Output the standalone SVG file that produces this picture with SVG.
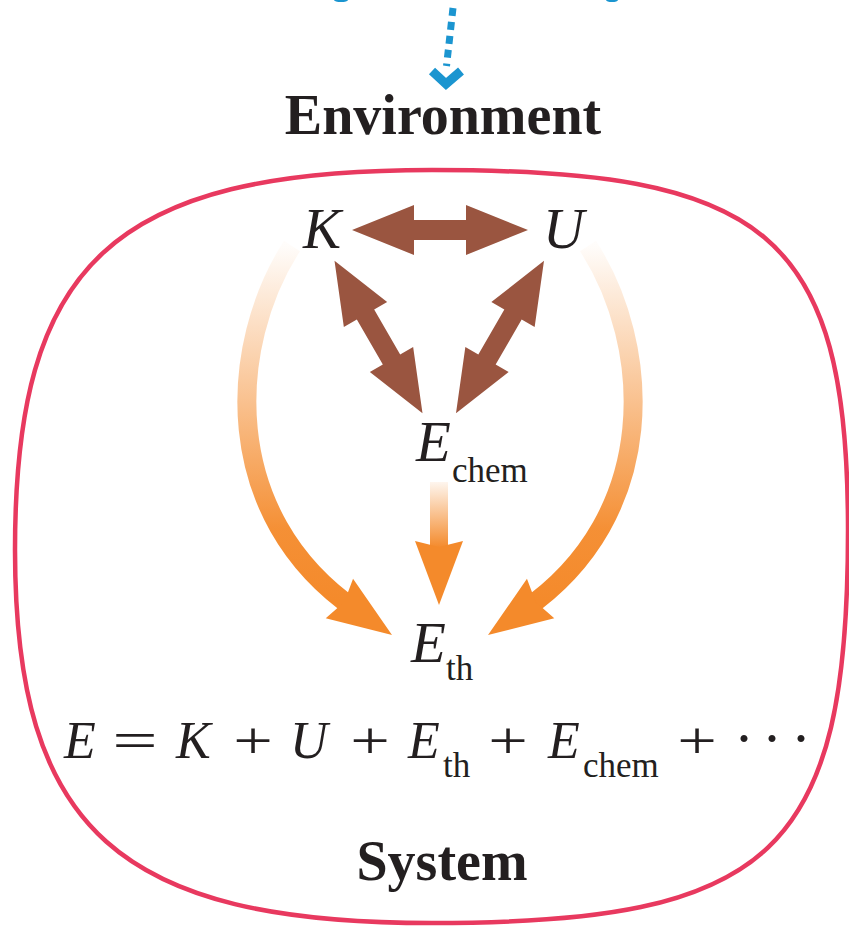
<svg xmlns="http://www.w3.org/2000/svg" width="849" height="928" viewBox="0 0 849 928">
<style>
.lbl{font-family:"Liberation Serif","Times New Roman",serif;fill:#231F20}
.it{font-style:italic}
.bold{font-weight:bold}
.sub{font-size:35px}
.brown{fill:#9A5540}
.orange{fill:#F48A2B}
.blue{stroke:#1B95D0;fill:none}
</style>
<defs>
<linearGradient id="gArc" gradientUnits="userSpaceOnUse" x1="0" y1="245" x2="0" y2="600">
<stop offset="0" stop-color="#F48A2B" stop-opacity="0.02"/>
<stop offset="0.4" stop-color="#F48A2B" stop-opacity="0.48"/>
<stop offset="0.6" stop-color="#F48A2B" stop-opacity="0.72"/>
<stop offset="0.8" stop-color="#F48A2B" stop-opacity="0.95"/>
<stop offset="1" stop-color="#F48A2B" stop-opacity="1"/>
</linearGradient>
<linearGradient id="gVert" gradientUnits="userSpaceOnUse" x1="0" y1="482" x2="0" y2="548">
<stop offset="0" stop-color="#F48A2B" stop-opacity="0.08"/>
<stop offset="1" stop-color="#F48A2B" stop-opacity="1"/>
</linearGradient>
<polygon id="dbl" points="-88,0 -26,-25 -26,-10 26,-10 26,-25 88,0 26,25 26,10 -26,10 -26,25"/>
<polygon id="head" points="0,0 -64,-24 -58,0 -64,24"/>
</defs>

<g id="system-boundary">
<path d="M432,170 C764,170 848,230 848,530 C848,853 773,923 432,923 C119,923 15,830 15,550 C15,265 110,170 432,170 Z" fill="none" stroke="#E8395F" stroke-width="4.5"/>
</g>

<g id="connectors">
<g id="energy-in">
<ellipse cx="341" cy="0" rx="7" ry="2" fill="#1B95D0"/>
<ellipse cx="612" cy="0" rx="6" ry="2" fill="#1B95D0"/>
<line class="blue" x1="453" y1="8" x2="446.5" y2="66" stroke-width="7" stroke-dasharray="8 6"/>
<polyline class="blue" points="432,71 446,84 461,71" stroke-width="9"/>
</g>
<g id="brown-arrows" class="brown">
<use href="#dbl" transform="translate(440,230)"/>
<use href="#dbl" transform="translate(378.5,337) rotate(60)"/>
<use href="#dbl" transform="translate(500,337) rotate(-60)"/>
</g>
<g id="orange-arrows">
<path d="M292,246 C228,345 218,515 356,610" fill="none" stroke="url(#gArc)" stroke-width="19"/>
<use href="#head" class="orange" transform="translate(392,635) rotate(34.7)"/>
<path d="M588,246 C652,345 662,515 524,610" fill="none" stroke="url(#gArc)" stroke-width="19"/>
<use href="#head" class="orange" transform="translate(488,635) rotate(145.3)"/>
<rect x="430" y="482" width="18" height="80" fill="url(#gVert)"/>
<use href="#head" class="orange" transform="translate(439,605) rotate(90)"/>
</g>
</g>

<g id="environment">
<text class="lbl bold" x="443" y="134" font-size="56" text-anchor="middle">Environment</text>
</g>

<g id="node-K">
<text class="lbl it" x="303" y="248" font-size="57">K</text>
</g>
<g id="node-U">
<text class="lbl it" x="543" y="248" font-size="57">U</text>
</g>
<g id="node-Echem">
<text class="lbl" y="461" font-size="57"><tspan class="it" x="416">E</tspan><tspan class="sub" x="452" y="482">chem</tspan></text>
</g>
<g id="node-Eth">
<text class="lbl" y="662" font-size="57"><tspan class="it" x="411">E</tspan><tspan class="sub" x="446" y="680">th</tspan></text>
</g>

<g id="equation">
<text class="lbl it" x="64" y="758" font-size="52">E</text>
<text class="lbl" transform="translate(135,758) scale(1.55,1)" font-size="52" text-anchor="middle">=</text>
<text class="lbl it" x="176" y="758" font-size="52">K</text>
<text class="lbl" transform="translate(253,758) scale(1.35,1)" font-size="52" text-anchor="middle">+</text>
<text class="lbl it" x="290" y="758" font-size="52">U</text>
<text class="lbl" transform="translate(370,758) scale(1.35,1)" font-size="52" text-anchor="middle">+</text>
<text class="lbl it" x="408" y="758" font-size="52">E</text>
<text class="lbl sub" x="443" y="777">th</text>
<text class="lbl" transform="translate(508,758) scale(1.35,1)" font-size="52" text-anchor="middle">+</text>
<text class="lbl it" x="548" y="758" font-size="52">E</text>
<text class="lbl sub" x="583" y="777">chem</text>
<text class="lbl" transform="translate(697,758) scale(1.35,1)" font-size="52" text-anchor="middle">+</text>
<text class="lbl" x="744" y="758" font-size="60" text-anchor="middle">·</text>
<text class="lbl" x="772" y="758" font-size="60" text-anchor="middle">·</text>
<text class="lbl" x="801" y="758" font-size="60" text-anchor="middle">·</text>
</g>

<g id="system-label">
<text class="lbl bold" x="442" y="880" font-size="56" text-anchor="middle">System</text>
</g>
</svg>
